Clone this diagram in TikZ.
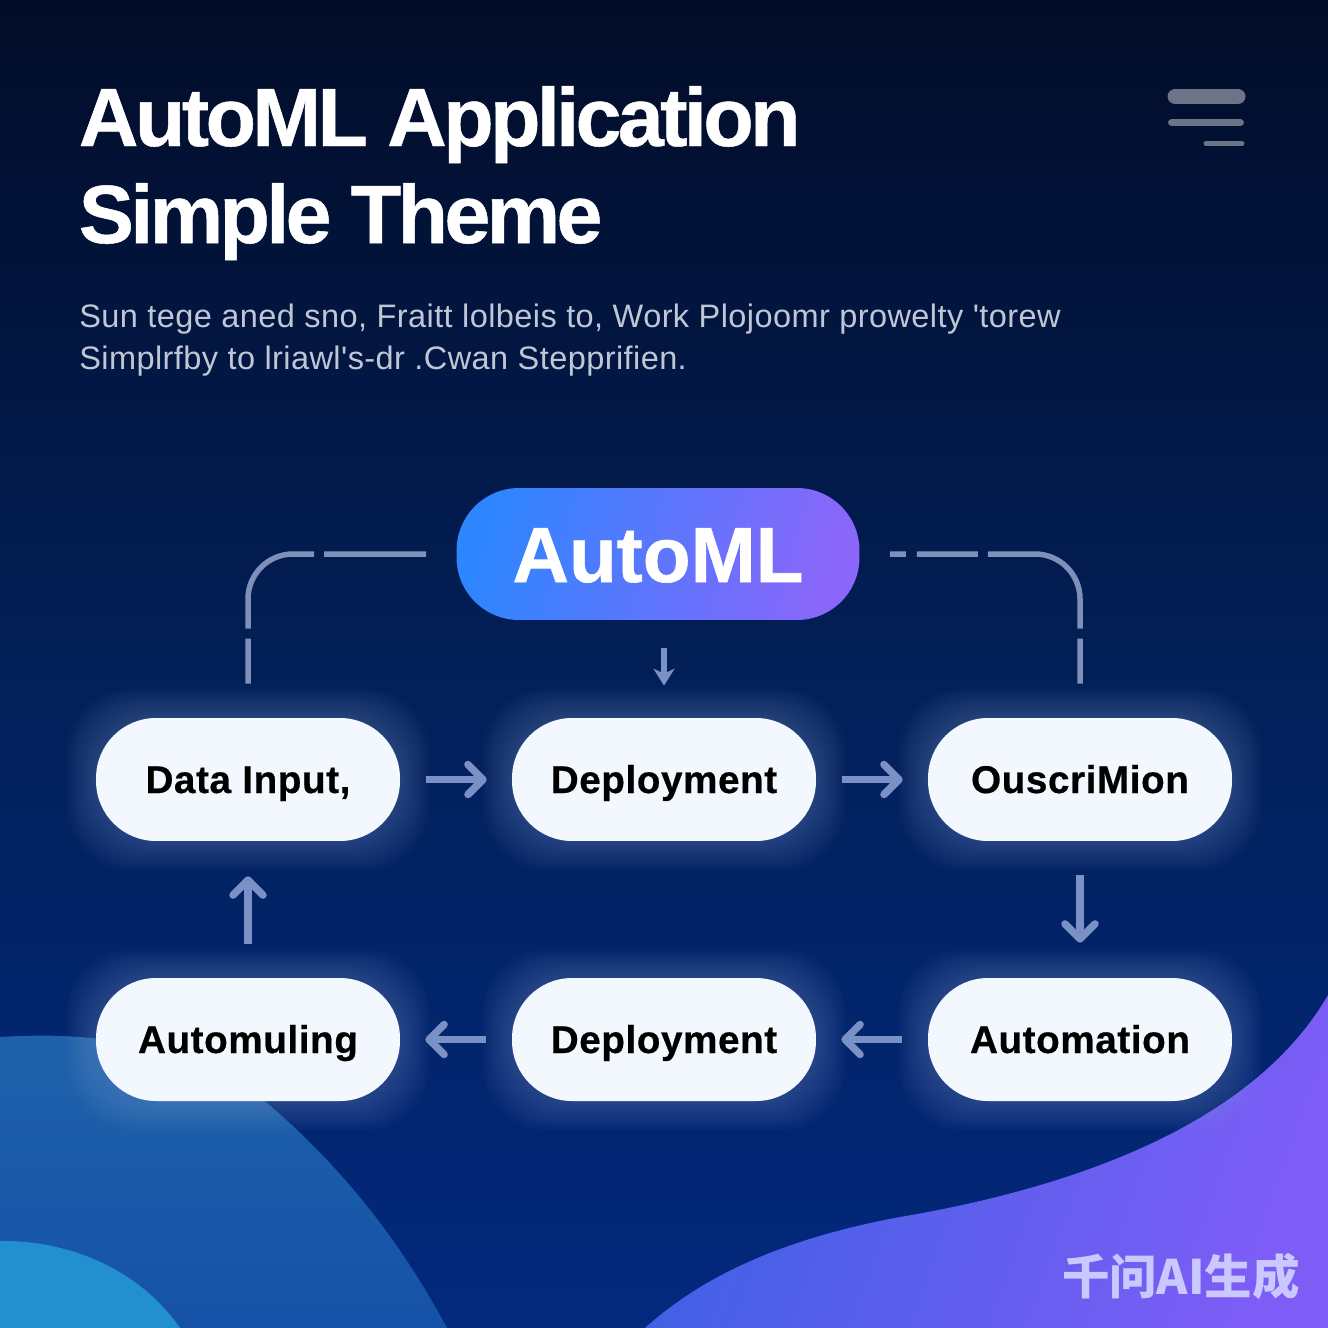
\documentclass[tikz,border=0pt]{standalone}
\usepackage{fontspec}
\setmainfont{Liberation Sans}
\newfontfamily\cjk{Noto Sans CJK SC}
\newfontfamily\heavy[UprightFont=* Bold,FakeBold=0.6,LetterSpace=-4.4]{Liberation Sans}
\newfontfamily\pillfont[UprightFont=* Bold,FakeBold=0.5,LetterSpace=1.5]{Liberation Sans}
\newfontfamily\hubfont[UprightFont=* Bold,FakeBold=0.8]{Liberation Sans}
\newfontfamily\plain[LetterSpace=1.3]{Liberation Sans}
\usetikzlibrary{arrows.meta}
\definecolor{skytop}{HTML}{020C28}
\definecolor{skymid}{HTML}{02205A}
\definecolor{skylow}{HTML}{03297E}
\definecolor{linkgrey}{HTML}{7B90C4}
\definecolor{tracegrey}{HTML}{7E8FB8}
\definecolor{barcolor}{HTML}{6E7488}
\definecolor{pillwhite}{HTML}{F3F7FE}
\definecolor{halocolor}{HTML}{8FA8DC}
\definecolor{hubblue}{HTML}{2E86FF}
\definecolor{hubviolet}{HTML}{8A66FA}
\definecolor{blobtop}{HTML}{1F62AA}
\definecolor{blobbase}{HTML}{1552A8}
\definecolor{blobsmall}{HTML}{228FCF}
\definecolor{waveleft}{HTML}{3F60E4}
\definecolor{waveright}{HTML}{7D5DF6}
\definecolor{marktext}{HTML}{C9C8FF}
\definecolor{greytext}{HTML}{BFC6D6}
\begin{document}
\begin{tikzpicture}%
	[x=0.02cm,y=-0.02cm,
	pill/.style={fill=pillwhite,minimum width=6.08cm,minimum height=2.46cm,rounded corners=1.2cm,inner sep=0pt,text=black,text height=0.74cm,text depth=0.2cm,font=\pillfont\fontsize{22}{26}\selectfont},
	hub/.style={left color=hubblue,right color=hubviolet,shading angle=75,minimum width=8.06cm,minimum height=2.64cm,rounded corners=1.25cm,inner sep=0pt,text=white,text height=1.5cm,text depth=0.38cm,font=\hubfont\fontsize{44.5}{50}\selectfont},
	halo/.style={fill=halocolor,fill opacity=0.03},
	link/.style={color=linkgrey,line width=0.15cm,-{Straight Barb[length=0.3cm,width=0.6cm,round]},shorten <=0.52cm,shorten >=0.5cm},
	vlink/.style={link,shorten <=0.68cm,shorten >=0.7cm},
	trace/.style={color=tracegrey,line width=0.11cm,rounded corners=0.9cm,shorten <=0.6cm,shorten >=0.68cm},
	title/.style={anchor=base west,inner sep=0pt,text=white,font=\heavy\fontsize{47}{54}\selectfont},
	blurb/.style={anchor=base west,inner sep=0pt,text=greytext,font=\plain\fontsize{18.5}{22}\selectfont},
	bar/.style={color=barcolor,line cap=round}]
%
%% Drawing the background
%%
\useasboundingbox (0,0) rectangle (1328,1328);
\shade[top color=skytop,bottom color=skymid] (0,0) rectangle (1328,700);
\shade[top color=skymid,bottom color=skylow] (0,700) rectangle (1328,1328);
\shade[top color=blobtop,bottom color=blobbase] (0,1037) .. controls (110,1030) and (200,1050) .. (267,1103) .. controls (340,1165) and (400,1240) .. (447,1328) -- (0,1328) -- cycle;
\fill[color=blobsmall] (0,1241) .. controls (70,1240) and (140,1270) .. (180,1328) -- (0,1328) -- cycle;
\shade[left color=waveleft,right color=waveright,shading angle=70] (645,1328) .. controls (720,1260) and (820,1232) .. (900,1217) .. controls (1060,1190) and (1250,1130) .. (1328,995) -- (1328,1328) -- cycle;
%%
%% Drawing the header
%%
\node[title] (titlea) at (78.5,146) {AutoML Application};
\node[title] (titleb) at (78.5,243) {Simple Theme};
\node[blurb] (texta) at (79,327) {Sun tege aned sno, Fraitt lolbeis to, Work Plojoomr prowelty 'torew};
\node[blurb] (textb) at (79,369) {Simplrfby to lriawl's-dr .Cwan Stepprifien.};
\draw[bar,line width=0.3cm] (1175,96.5) -- (1238,96.5);
\draw[bar,line width=0.16cm] (1172,122.5) -- (1240,122.5);
\draw[bar,line width=0.1cm] (1206,143.5) -- (1242,143.5);
%%
%% Drawing the glow
%%
\foreach \cx/\cy in {248/779.5,664/779.5,1080/779.5,248/1039.5,664/1039.5,1080/1039.5}
	\foreach \g in {2,5,...,29}
		\fill[halo,rounded corners=1.3cm] ({\cx-152-\g},{\cy-61.5-\g}) rectangle ({\cx+152+\g},{\cy+61.5+\g});
%%
%% Drawing the vertices
%%
\node[hub] (automl) at (658,554) {AutoML};
\node[pill] (input) at (248,779.5) {Data Input,};
\node[pill] (deploya) at (664,779.5) {Deployment};
\node[pill] (ouscri) at (1080,779.5) {OuscriMion};
\node[pill] (automuling) at (248,1039.5) {Automuling};
\node[pill] (deployb) at (664,1039.5) {Deployment};
\node[pill] (automation) at (1080,1039.5) {Automation};
%%
%% Drawing edges
%%
\draw[trace,dash pattern=on 2.04cm off 0.2cm on 2.43cm off 0.2cm on 1cm] (automl.west) -| (input.north);
\draw[trace,dash pattern=on 0.32cm off 0.22cm on 1.22cm off 0.2cm on 2.95cm off 0.2cm on 1cm] (automl.east) -| (ouscri.north);
\draw[link,line width=0.12cm,-{Stealth[length=0.34cm,width=0.42cm,inset=0.1cm]},shorten <=0.56cm,shorten >=0.64cm] (deploya.north |- automl.south) -- (deploya.north);
\draw[link] (input) -- (deploya);
\draw[link] (deploya) -- (ouscri);
\draw[vlink] (ouscri) -- (automation);
\draw[link] (automation) -- (deployb);
\draw[link] (deployb) -- (automuling);
\draw[vlink] (automuling) -- (input);
%%
%% Drawing the mark
%%
\node[anchor=base east,inner sep=0pt,text=marktext,font=\cjk\fontsize{27}{32}\selectfont\bfseries] (mark) at (1300,1294) {千问AI生成};
\end{tikzpicture}
\end{document}
